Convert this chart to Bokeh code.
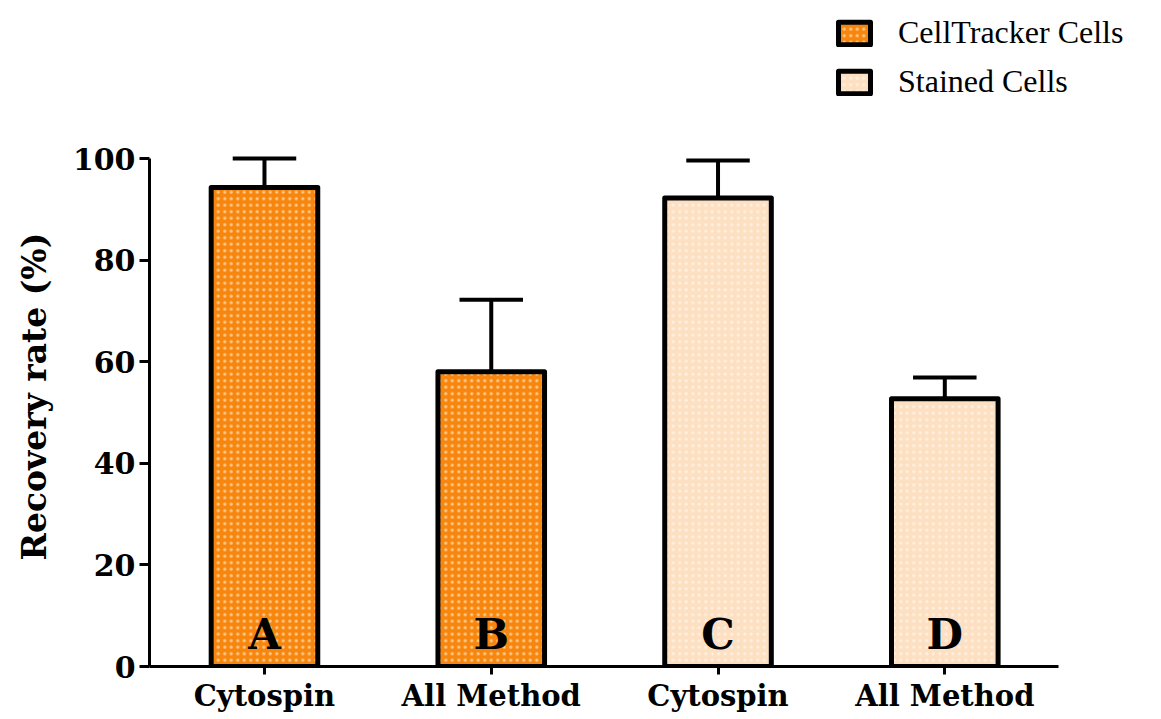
from bokeh.plotting import figure
from bokeh.models import Range1d, Legend, LegendItem, FixedTicker, ColumnDataSource, Title
from bokeh.core.properties import value
from bokeh.embed import file_html
from bokeh.resources import INLINE

categories = ["Cytospin", "All Method", "Cytospin", "All Method"]
letters = ["A", "B", "C", "D"]
series = ["CellTracker Cells", "Stained Cells"]
groups = ["CellTracker Cells", "CellTracker Cells", "Stained Cells", "Stained Cells"]
values = [94.3, 58.0, 92.2, 52.7]
errors = [5.7, 14.2, 7.4, 4.2]
y_ticks = [0, 20, 40, 60, 80, 100]
y_label = "Recovery rate (%)"

colors = {"CellTracker Cells": "#F7860E", "Stained Cells": "#FDDFC1"}
hatch_colors = {"CellTracker Cells": "#FFC98A", "Stained Cells": "#FFF0E0"}

xs = [i + 1 for i in range(len(categories))]
tops = [v + e for v, e in zip(values, errors)]

# frame covers the whole top/right area so the legend can sit above the axes;
# the axes themselves are bounded to the data region (0..100, 0.49..4.5)
X0, X1 = 0.493, 4.5
px_per_x = 227.0
px_per_y = 5.08
p = figure(width=1161, height=719, output_backend="svg", toolbar_location=None,
           x_range=Range1d(X0, X0 + (1161 - 148) / px_per_x),
           y_range=Range1d(0, 666 / px_per_y),
           min_border_left=148, min_border_right=0, min_border_top=0, min_border_bottom=53)
p.outline_line_color = None
p.grid.visible = False
p.background_fill_color = "white"
p.border_fill_color = "white"

renderers = {}
for g in series:
    idx = [i for i in range(len(groups)) if groups[i] == g]
    src = ColumnDataSource(dict(x=[xs[i] for i in idx], top=[values[i] for i in idx]))
    renderers[g] = p.vbar(x="x", top="top", bottom=0, width=0.47, source=src,
                          fill_color=colors[g], line_color="black", line_width=5, line_join="round",
                          hatch_pattern="dot", hatch_color=hatch_colors[g], hatch_scale=6.5,
                          hatch_weight=1.6)

# error bars (upper only)
p.segment(x0=xs, y0=values, x1=xs, y1=tops, line_color="black", line_width=4)
p.segment(x0=[x - 0.14 for x in xs], y0=tops, x1=[x + 0.14 for x in xs], y1=tops,
          line_color="black", line_width=4)

# letters inside bars
p.text(x=xs, y=[6.3] * len(xs), text=letters, text_align="center", text_baseline="middle",
       text_font=value("DejaVu Serif"), text_font_style="bold", text_font_size="42px",
       text_color="black")

# axes
p.xaxis.bounds = (X0, X1)
p.xaxis.ticker = FixedTicker(ticks=xs)
p.xaxis.major_label_overrides = {x: c for x, c in zip(xs, categories)}
p.xaxis.minor_tick_line_color = None
p.xaxis.major_tick_out = 8
p.xaxis.major_tick_in = 0
p.xaxis.axis_line_width = 3
p.xaxis.major_tick_line_width = 3
p.xaxis.major_label_text_font = "DejaVu Serif"
p.xaxis.major_label_text_font_style = "bold"
p.xaxis.major_label_text_font_size = "29px"
p.xaxis.major_label_text_color = "black"
p.xaxis.major_label_standoff = 4

p.yaxis.bounds = (0, 100)
p.yaxis.ticker = FixedTicker(ticks=y_ticks)
p.yaxis.minor_tick_line_color = None
p.yaxis.major_tick_out = 10
p.yaxis.major_tick_in = 0
p.yaxis.axis_line_width = 3
p.yaxis.major_tick_line_width = 3
p.yaxis.major_label_text_font = "DejaVu Serif"
p.yaxis.major_label_text_font_style = "bold"
p.yaxis.major_label_text_font_size = "30px"
p.yaxis.major_label_text_color = "black"
p.yaxis.major_label_standoff = 4

# y-axis title, centred on the 0..100 span rather than the whole frame
ytitle = Title(text=y_label, align="left", offset=106, vertical_align="top", standoff=28,
               text_font="DejaVu Serif", text_font_style="bold", text_font_size="33px",
               text_color="black")
p.add_layout(ytitle, "left")

legend = Legend(items=[LegendItem(label=g, renderers=[renderers[g]]) for g in series],
                location=(685, 566), orientation="vertical",
                glyph_width=40, glyph_height=28, label_standoff=24, spacing=12,
                padding=0, margin=0, border_line_color=None, background_fill_alpha=0,
                label_text_font="Liberation Serif", label_text_font_size="32px",
                label_text_color="black")
p.add_layout(legend, "center")

open("out.html", "w").write(file_html(p, INLINE))
